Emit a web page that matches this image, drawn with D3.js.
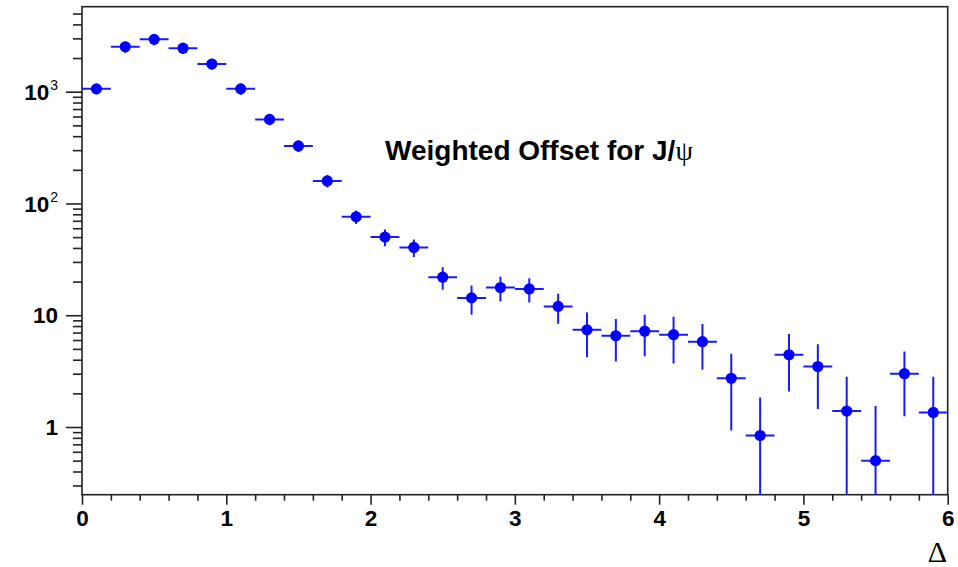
<!DOCTYPE html>
<html>
<head>
<meta charset="utf-8">
<script src="https://cdn.jsdelivr.net/npm/d3@7"></script>
<style>
  body { margin: 0; background: #fff; }
  svg { display: block; }
</style>
</head>
<body>
<svg id="chart" width="958" height="567"></svg>
<script>
// Histogram of the weighted offset Δ, 30 bins of width 0.2
const binCenters = [0.1, 0.3, 0.5, 0.7, 0.9, 1.1, 1.3, 1.5, 1.7, 1.9,
                    2.1, 2.3, 2.5, 2.7, 2.9, 3.1, 3.3, 3.5, 3.7, 3.9,
                    4.1, 4.3, 4.5, 4.7, 4.9, 5.1, 5.3, 5.5, 5.7, 5.9];
const binWidth = 0.2;
const binContents = [1060, 2520, 2940, 2450, 1770, 1060, 565, 327, 159, 76,
                     50, 40.4, 21.9, 14.3, 17.7, 17.2, 12.0, 7.4, 6.55, 7.2,
                     6.7, 5.8, 2.73, 0.84, 4.43, 3.48, 1.39, 0.5, 3.0, 1.35];
const binErrors = [110, 290, 330, 280, 200, 120, 65, 38, 20, 10.5,
                   8.6, 7.2, 5.0, 4.2, 4.4, 4.2, 3.6, 3.2, 2.7, 2.9,
                   3.0, 2.55, 1.8, 1.0, 2.35, 2.03, 1.43, 1.04, 1.75, 1.47];

const xTickValues = [0, 1, 2, 3, 4, 5, 6];
const xTickLabels = ["0", "1", "2", "3", "4", "5", "6"];
const yTickValues = [1, 10, 100, 1000];
const yTickBases = ["1", "10", "10", "10"];
const yTickExponents = ["", "", "2", "3"];

const titleMain = "Weighted Offset for J/";
const titleGreek = "\u03C8";
const xAxisTitle = "\u0394";

const xDomain = [0, 6];
const yDomain = [0.248, 5760];

// frame geometry
const frameL = 82, frameR = 947.7, frameT = 6.7, frameB = 494.7;

const svg = d3.select("#chart");
const x = d3.scaleLinear().domain(xDomain).range([frameL, frameR]);
const y = d3.scaleLog().domain(yDomain).range([frameB, frameT]);

const sansBold = "'Liberation Sans', Arial, Helvetica, sans-serif";
const serif = "'Liberation Serif', 'Times New Roman', serif";
const axisColor = "#222";
const labelSize = 22.5;

// clip region = plot frame
svg.append("defs").append("clipPath").attr("id", "plotClip")
  .append("rect").attr("x", frameL).attr("y", frameT)
  .attr("width", frameR - frameL).attr("height", frameB - frameT);

// minor tick positions
const yMinor = [];
[0.1, 1, 10, 100, 1000].forEach(d => {
  for (let k = 2; k <= 9; k++) {
    const v = d * k;
    if (v >= yDomain[0] && v <= yDomain[1]) yMinor.push(v);
  }
});
const xMinor = d3.range(0, 30).map(i => i * binWidth).filter(v => Math.abs(v - Math.round(v)) > 1e-6);

function styleAxis(g) {
  g.select(".domain").remove();
  g.selectAll(".tick line").attr("stroke", axisColor).attr("stroke-width", 1.6);
}

// x axis: minor then major ticks with labels
svg.append("g").attr("transform", `translate(0,${frameB})`)
  .call(d3.axisBottom(x).tickValues(xMinor).tickSize(6).tickFormat(""))
  .call(styleAxis);
const xAxisG = svg.append("g").attr("transform", `translate(0,${frameB})`)
  .call(d3.axisBottom(x).tickValues(xTickValues).tickSize(10).tickPadding(5)
        .tickFormat((d, i) => xTickLabels[i]))
  .call(styleAxis);
xAxisG.selectAll(".tick text")
  .attr("font-family", sansBold).attr("font-weight", "bold")
  .attr("font-size", labelSize).attr("fill", "#000");

// y axis: minor then major ticks
svg.append("g").attr("transform", `translate(${frameL},0)`)
  .call(d3.axisLeft(y).tickValues(yMinor).tickSize(9).tickFormat(""))
  .call(styleAxis);
svg.append("g").attr("transform", `translate(${frameL},0)`)
  .call(d3.axisLeft(y).tickValues(yTickValues).tickSize(16).tickFormat(""))
  .call(styleAxis);

// y tick labels with superscript exponents
const yLab = svg.append("g");
yTickValues.forEach((v, i) => {
  const t = yLab.append("text")
    .attr("x", 58).attr("y", y(v)).attr("dy", "0.36em")
    .attr("text-anchor", "end")
    .attr("font-family", sansBold).attr("font-weight", "bold")
    .attr("font-size", labelSize).attr("fill", "#000");
  t.append("tspan").text(yTickBases[i]);
  if (yTickExponents[i]) {
    t.append("tspan").attr("dy", -9.5).attr("dx", 1).attr("font-size", 14)
      .attr("font-weight", "normal").text(yTickExponents[i]);
  }
});

// frame
svg.append("rect")
  .attr("x", frameL).attr("y", frameT)
  .attr("width", frameR - frameL).attr("height", frameB - frameT)
  .attr("fill", "none").attr("stroke", axisColor).attr("stroke-width", 1.6);

// data points with error bars
const bins = binCenters.map((c, i) => ({ c, v: binContents[i], e: binErrors[i] }));
const plot = svg.append("g").attr("clip-path", "url(#plotClip)");
const barColor = "#1a1aff";

plot.selectAll("line.ex").data(bins).join("line").attr("class", "ex")
  .attr("x1", d => x(d.c - binWidth / 2)).attr("x2", d => x(d.c + binWidth / 2))
  .attr("y1", d => y(d.v)).attr("y2", d => y(d.v))
  .attr("stroke", barColor).attr("stroke-width", 2);

plot.selectAll("line.ey").data(bins).join("line").attr("class", "ey")
  .attr("x1", d => x(d.c)).attr("x2", d => x(d.c))
  .attr("y1", d => y(d.v + d.e))
  .attr("y2", d => (d.v - d.e > 0 ? y(d.v - d.e) : frameB + 5))
  .attr("stroke", barColor).attr("stroke-width", 2);

plot.selectAll("circle").data(bins).join("circle")
  .attr("cx", d => x(d.c)).attr("cy", d => y(d.v)).attr("r", 5.6)
  .attr("fill", "#0000ff");

// title
const title = svg.append("text")
  .attr("x", 385).attr("y", 160)
  .attr("font-family", sansBold).attr("font-weight", "bold")
  .attr("font-size", 28).attr("fill", "#000");
title.append("tspan").text(titleMain);
title.append("tspan").attr("font-family", serif).attr("font-weight", "normal")
  .text(titleGreek);

// x axis title
svg.append("text")
  .attr("x", 947).attr("y", 562)
  .attr("text-anchor", "end")
  .attr("font-family", serif).attr("font-size", 30).attr("fill", "#000")
  .text(xAxisTitle);
</script>
</body>
</html>
